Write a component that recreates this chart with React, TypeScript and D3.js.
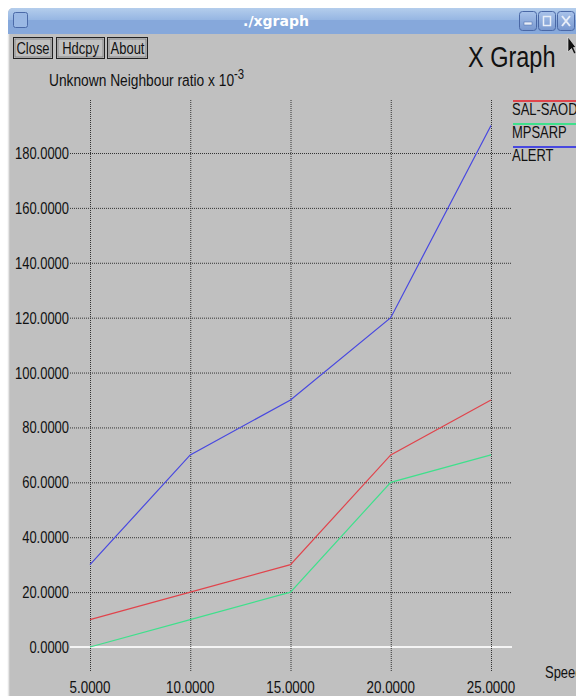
import React from "react";
import * as d3 from "d3";

// Speed values on the x axis
const speeds = [5, 10, 15, 20, 25];
// Unknown neighbour ratio (x 10^-3) per protocol
const salSaod = [10, 20, 30, 70, 90];
const mpsarp = [0, 10, 20, 60, 70];
const alert = [30, 70, 90, 120, 190];
const yTicks = [0, 20, 40, 60, 80, 100, 120, 140, 160, 180];
const seriesNames = ["SAL-SAOD", "MPSARP", "ALERT"];
const seriesColors = ["#e0444c", "#3fe08c", "#4848e0"];

const W = 576;
const H = 696;
const FONT = "'Liberation Sans', Arimo, sans-serif";
const SQUEEZE = 0.81;

// Condensed text: Liberation Sans squeezed horizontally around its anchor point
function T(props: {
  x: number;
  y: number;
  size: number;
  anchor?: "start" | "middle" | "end";
  fill?: string;
  children: React.ReactNode;
}) {
  const { x, y, size, anchor = "start", fill = "#111", children } = props;
  return (
    <text
      transform={`translate(${x},${y}) scale(${SQUEEZE},1)`}
      textAnchor={anchor}
      fontSize={size}
      fill={fill}
      fontFamily={FONT}
    >
      {children}
    </text>
  );
}

export default function App() {
  const x = d3.scaleLinear().domain([5, 25]).range([90, 491]);
  const y = d3.scaleLinear().domain([0, 180]).range([647, 153]);
  const line = d3
    .line<number>()
    .x((_, i) => x(speeds[i]))
    .y((d) => y(d));
  const series = [salSaod, mpsarp, alert];

  const gridL = 70;
  const gridR = 512;
  const gridT = 100;
  const gridB = 671;

  const buttons = [
    { label: "Close", x0: 13, x1: 52 },
    { label: "Hdcpy", x0: 56, x1: 104 },
    { label: "About", x0: 107, x1: 147 },
  ];

  return (
    <svg
      width={W}
      height={H}
      style={{ position: "absolute", left: 0, top: 0, display: "block" }}
      fontFamily={FONT}
    >
      <defs>
        <linearGradient id="tb" x1="0" y1="0" x2="0" y2="1">
          <stop offset="0" stopColor="#b4cdec" />
          <stop offset="0.5" stopColor="#93b4e2" />
          <stop offset="1" stopColor="#7fa3d8" />
        </linearGradient>
        <linearGradient id="btn" x1="0" y1="0" x2="0" y2="1">
          <stop offset="0" stopColor="#a9c3ea" />
          <stop offset="1" stopColor="#7898d0" />
        </linearGradient>
      </defs>
      <rect width={W} height={H} fill="#ffffff" />
      {/* window frame */}
      <rect x={8} y={8} width={W} height={H} rx={5} fill="#c0c0c0" />
      <rect x={8} y={8} width={W} height={26} rx={5} fill="url(#tb)" />
      <rect x={8} y={20} width={W} height={14} fill="#86a8db" />
      <line x1={8.5} y1={34} x2={8.5} y2={H} stroke="#e6e6e6" strokeWidth={1.5} />
      <rect x={13.5} y={12.5} width={14} height={15} rx={2} fill="#9ab8e4" stroke="#4b6aa8" strokeWidth={1} />
      <text
        x={276}
        y={26}
        textAnchor="middle"
        fontFamily="'DejaVu Sans', sans-serif"
        fontWeight="bold"
        fontSize={14}
        fill="#ffffff"
      >
        ./xgraph
      </text>
      {/* window controls */}
      {[519, 538, 557].map((bx, i) => (
        <g key={i}>
          <rect x={bx + 0.5} y={11.5} width={17} height={19} rx={3} fill="url(#btn)" stroke="#4a68a6" />
          {i === 0 && <rect x={bx + 5} y={22} width={8} height={3} fill="#e8eef8" stroke="#4a68a6" strokeWidth={0.5} />}
          {i === 1 && <rect x={bx + 5.5} y={16.5} width={7} height={9} fill="none" stroke="#e8eef8" strokeWidth={1.5} />}
          {i === 2 && (
            <path d={`M${bx + 5},${16} L${bx + 13},${26} M${bx + 13},${16} L${bx + 5},${26}`} stroke="#e8eef8" strokeWidth={2} />
          )}
        </g>
      ))}

      {/* buttons */}
      {buttons.map((b) => (
        <g key={b.label}>
          <rect x={b.x0 + 0.5} y={37.5} width={b.x1 - b.x0} height={21} fill="#c0c0c0" stroke="#222" strokeWidth={1} />
          <rect x={b.x0 + 2} y={39} width={b.x1 - b.x0 - 3} height={18} fill="none" stroke="#666" strokeWidth={0.6} />
          <T x={(b.x0 + b.x1) / 2 + 0.5} y={54} size={16} anchor="middle">
            {b.label}
          </T>
        </g>
      ))}

      <T x={468} y={67} size={29}>
        X Graph
      </T>
      {/* mouse pointer */}
      <path d="M568,37 L568,52 L571.5,48.5 L574,54 L576,53 L573.5,47.5 L576,47.5 Z" fill="#111" stroke="#eee" strokeWidth={0.6} />

      <T x={49} y={86} size={17}>
        Unknown Neighbour ratio x 10
        <tspan dy={-7} fontSize={14}>-3</tspan>
      </T>

      {/* grid */}
      {yTicks.map((t) => (
        <g key={t}>
          {t === 0 ? (
            <line x1={gridL} x2={gridR} y1={y(t)} y2={y(t)} stroke="#f4f4f4" strokeWidth={2} />
          ) : (
            <line x1={gridL} x2={gridR} y1={y(t) + 0.5} y2={y(t) + 0.5} stroke="#333" strokeWidth={1} strokeDasharray="1,1" />
          )}
          <T x={69} y={y(t) + 6} size={16} anchor="end">
            {d3.format(".4f")(t)}
          </T>
        </g>
      ))}
      {speeds.map((s) => (
        <g key={s}>
          <line x1={x(s) + 0.5} x2={x(s) + 0.5} y1={gridT} y2={gridB} stroke="#333" strokeWidth={1} strokeDasharray="1,1" />
          <T x={x(s)} y={693} size={16.5} anchor="middle">
            {d3.format(".4f")(s)}
          </T>
        </g>
      ))}
      <T x={545} y={678} size={16}>
        Speed
      </T>

      {/* data series */}
      {series.map((vals, i) => (
        <path key={i} d={line(vals) || ""} fill="none" stroke={seriesColors[i]} strokeWidth={1.2} />
      ))}

      {/* legend */}
      {seriesNames.map((n, i) => (
        <g key={n}>
          <line x1={513} x2={W} y1={101 + i * 23} y2={101 + i * 23} stroke={seriesColors[i]} strokeWidth={2} />
          <T x={512} y={115 + i * 23} size={16}>
            {n}
          </T>
        </g>
      ))}
    </svg>
  );
}
